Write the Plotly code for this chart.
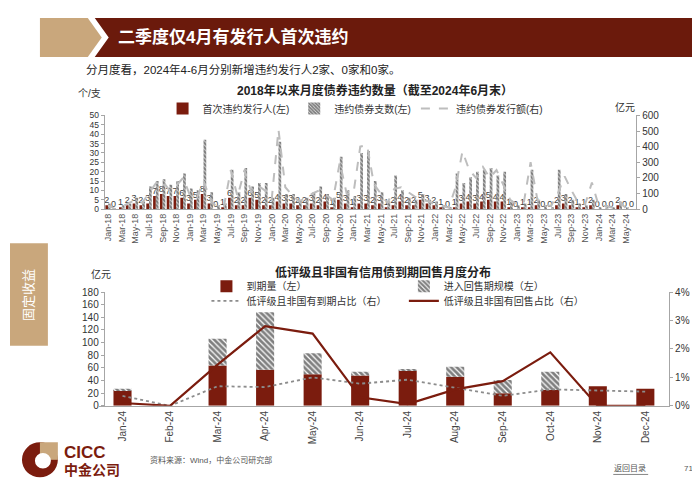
import plotly.graph_objects as go

W, H = 700, 490
DARK = "#7B1C0E"
BANNER = "#6B1A0C"
TAN = "#C9A77C"
FONT = "Liberation Sans, Noto Sans CJK SC, sans-serif"

MON = ["Jan", "Feb", "Mar", "Apr", "May", "Jun", "Jul", "Aug", "Sep", "Oct", "Nov", "Dec"]

# top chart: monthly defaults since 2018
top_months = [f"{m}-{y}" for y in range(18, 25) for m in MON][:78]
first_issuers = [2, 0, 1, 2, 3, 2, 3, 7, 8, 7, 7, 6,
                 3, 5, 8, 3, 0, 1, 6, 2, 2, 6, 5, 2,
                 2, 4, 3, 3, 2, 2, 3, 2, 4, 1, 5, 3,
                 1, 3, 3, 2, 3, 1, 2, 4, 2, 2, 5, 3,
                 2, 1, 0, 1, 3, 4, 3, 4, 5, 4, 4, 1,
                 0, 1, 1, 2, 0, 0, 2, 3, 2, 1, 1, 2,
                 0, 0, 0, 2, 0, 0]
default_bonds = [3, 0, 2, 3, 6, 4, 12, 15, 16, 13, 15, 19,
                 11, 10, 37, 9, 2, 3, 21, 9, 22, 12, 14, 14,
                 6, 36, 8, 8, 5, 6, 9, 12, 8, 6, 28, 10,
                 7, 30, 31, 15, 9, 4, 18, 10, 6, 5, 8, 5,
                 4, 2, 1, 19, 14, 17, 20, 21, 22, 18, 20, 4,
                 2, 3, 21, 5, 2, 1, 21, 8, 5, 3, 2, 5,
                 1, 2, 1, 4, 1, 0]
default_amount = [25, 0, 15, 35, 60, 40, 100, 165, 180, 120, 150, 200,
                  90, 70, 180, 60, 10, 20, 250, 80, 250, 110, 150, 120,
                  60, 510, 140, 90, 50, 70, 100, 120, 90, 60, 300, 100,
                  100, 400, 410, 160, 100, 40, 130, 140, 110, 80, 60, 50,
                  30, 20, 10, 140, 370, 250, 200, 270, 200, 250, 150, 60,
                  30, 40, 300, 60, 30, 20, 100, 210, 120, 40, 30, 170,
                  20, 20, 10, 50, 5, 0]

# bottom chart: 2024 maturity / put distribution
bottom_months = [f"{m}-24" for m in MON]
maturity = [25, 0, 64, 57, 50, 48, 56, 46, 20, 25, 31, 27]
putable = [2, 0, 42, 91, 33, 6, 1, 16, 21, 29, 0, 0]
mat_ratio = [0.35, 0.0, 0.69, 0.66, 1.0, 0.78, 0.92, 0.64, 0.35, 0.58, 0.54, 0.5]
put_ratio = [0.1, 0.0, 1.45, 2.8, 2.54, 0.3, 0.06, 0.58, 0.87, 1.88, 0.0, 0.0]


def px(x):
    return x / W


def py(y):
    return 1 - y / H


idx = list(range(len(top_months)))

fig = go.Figure()

# ---- top chart
fig.add_trace(go.Bar(
    x=idx, y=first_issuers, name="首次违约发行人(左)", marker=dict(color=DARK, line_width=0),
    offsetgroup="a", xaxis="x", yaxis="y", legend="legend",
    text=first_issuers, textposition="outside", textangle=0, constraintext="none",
    cliponaxis=False, textfont=dict(size=9, color="#404040"),
))
fig.add_trace(go.Bar(
    x=idx, y=default_bonds, name="违约债券支数(左)",
    marker=dict(color="white", line_width=0,
                pattern=dict(shape="\\", fgcolor="#000000", bgcolor="white", size=3, solidity=0.8)),
    offsetgroup="b", xaxis="x", yaxis="y", legend="legend",
))
fig.add_trace(go.Scatter(
    x=idx, y=default_amount, name="违约债券发行额(右)", mode="lines",
    line=dict(color="#BDBDBD", width=2, dash="dash"),
    xaxis="x", yaxis="y2", legend="legend",
))

# ---- bottom chart
fig.add_trace(go.Bar(
    x=bottom_months, y=maturity, name="到期量（左）", width=0.38,
    marker=dict(color=DARK, line_width=0), offsetgroup="c",
    xaxis="x2", yaxis="y3", legend="legend2",
))
fig.add_trace(go.Bar(
    x=bottom_months, y=putable, base=maturity, name="进入回售期规模（左）", width=0.38,
    marker=dict(color="white", line_width=0,
                pattern=dict(shape="\\", fgcolor="#000000", bgcolor="white", size=4, solidity=0.7)),
    offsetgroup="c", xaxis="x2", yaxis="y3", legend="legend4",
))
fig.add_trace(go.Scatter(
    x=bottom_months, y=mat_ratio, name="低评级且非国有到期占比（右）", mode="lines",
    line=dict(color="#8C8C8C", width=1.8, dash="dot"),
    xaxis="x2", yaxis="y4", legend="legend3",
))
fig.add_trace(go.Scatter(
    x=bottom_months, y=put_ratio, name="低评级且非国有回售占比（右）", mode="lines",
    line=dict(color=DARK, width=2.2),
    xaxis="x2", yaxis="y4", legend="legend5",
))

axis_common = dict(showgrid=False, zeroline=False, showline=True, linecolor="#A6A6A6",
                   tickfont=dict(size=10, color="#333333"))
ytick = dict(ticks="outside", ticklen=3, tickcolor="#A6A6A6")
small_y = {**axis_common, "tickfont": dict(size=8.5, color="#333333")}

leg = dict(bgcolor="rgba(0,0,0,0)", font=dict(size=10, color="#333333"),
           xanchor="left", yanchor="middle", itemwidth=30)

fig.update_layout(
    width=W, height=H, autosize=False,
    margin=dict(l=0, r=0, t=0, b=0),
    paper_bgcolor="white", plot_bgcolor="white",
    font=dict(family=FONT, color="#333333"),
    barmode="group", bargap=0.2, bargroupgap=0,
    xaxis=dict(domain=[px(95), px(628)], anchor="y", range=[-0.5, 77.5],
               tickvals=idx[::2], ticktext=top_months[::2], tickangle=-90,
               **{**axis_common, "tickfont": dict(size=9, color="#555555")}),
    yaxis=dict(domain=[py(200), py(104)], range=[0, 50], dtick=5, **small_y, **ytick),
    yaxis2=dict(overlaying="y", side="right", anchor="x", range=[0, 600], dtick=100,
                **axis_common, **ytick),
    xaxis2=dict(domain=[px(89), px(661)], anchor="y3", tickangle=-90,
                **{**axis_common, "tickfont": dict(size=10, color="#444444")}),
    yaxis3=dict(domain=[py(401.7), py(285)], range=[0, 180], dtick=20, **axis_common, **ytick),
    yaxis4=dict(overlaying="y3", side="right", anchor="x2", range=[0, 4], dtick=1,
                ticksuffix="%", **axis_common, **ytick),
    legend=dict(orientation="h", x=px(153), y=py(97), **leg),
    legend2=dict(x=px(197), y=py(279), **leg),
    legend3=dict(x=px(197), y=py(294), **leg),
    legend4=dict(x=px(395), y=py(279), **leg),
    legend5=dict(x=px(395), y=py(294), **leg),
)

# ---- slide decoration
shapes = [
    dict(type="path", path=f"M {px(30)},{py(4)} L {px(78)},{py(4)} L {px(92)},{py(24)} "
                           f"L {px(78)},{py(44)} L {px(30)},{py(44)} Z",
         fillcolor=TAN, line_width=0),
    dict(type="path", path=f"M {px(85)},{py(4)} L {px(690)},{py(4)} L {px(690)},{py(44)} "
                           f"L {px(85)},{py(44)} L {px(99)},{py(24)} Z",
         fillcolor=BANNER, line_width=0),
    dict(type="rect", x0=0, x1=px(38), y0=py(340), y1=py(235), fillcolor=TAN, line_width=0),
    dict(type="circle", x0=px(12), x1=px(48), y0=py(475), y1=py(439), fillcolor=DARK, line_width=0),
    dict(type="path", path=f"M {px(30)},{py(457)} L {px(30)},{py(439)} L {px(48)},{py(439)} "
                           f"L {px(48)},{py(457)} Z",
         fillcolor=TAN, line_width=0, layer="above"),
    dict(type="circle", x0=px(25), x1=px(41), y0=py(466), y1=py(450), fillcolor="white", line_width=0),
    dict(type="line", x0=px(605), x1=px(640), y0=py(472), y1=py(472), line=dict(color="#666666", width=0.8)),
]
for s in shapes:
    s.setdefault("xref", "paper")
    s.setdefault("yref", "paper")
fig.update_layout(shapes=shapes)


def note(text, x, y, size, color="#333333", anchor="left", **kw):
    fig.add_annotation(text=text, x=px(x), y=py(y), xref="paper", yref="paper",
                       xanchor=anchor, yanchor="middle", showarrow=False,
                       font=dict(size=size, color=color, family=FONT), **kw)


note("<b>二季度仅4月有发行人首次违约</b>", 106, 24, 17, "white")
note("分月度看，2024年4-6月分别新增违约发行人2家、0家和0家。", 74, 57, 11.5, "#222222")
note("<b>2018年以来月度债券违约数量（截至2024年6月末）</b>", 366, 78, 12, "#222222", "center")
note("个/支", 80, 82, 10, anchor="center")
note("亿元", 617, 95, 10, anchor="center")
note("<b>低评级且非国有信用债到期回售月度分布</b>", 374, 265, 12, "#222222", "center")
note("亿元", 91, 267, 10, anchor="center")
note("固定收益", 19, 288, 13, "white", "center", textangle=-90)
note("<b>CICC</b>", 52, 449, 17, DARK)
note("<b>中金公司</b>", 52, 467, 14, DARK)
note("资料来源：Wind，中金公司研究部", 138, 457, 8, "#555555")
note("返回目录", 622, 466, 8, "#555555", "center")
note("71", 680, 466, 8, "#555555", "center")

fig.write_html("out.html")
